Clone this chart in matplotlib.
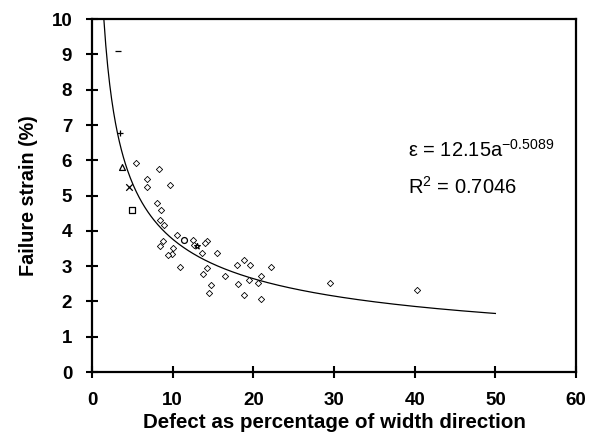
import numpy as np
import matplotlib
matplotlib.use('Agg')
import matplotlib.pyplot as plt

plt.rcParams['font.family'] = ['Liberation Sans', 'DejaVu Sans']

#------------------------------------------------------------------------------
# data
# defect (% of width) / failure strain (%) for the diamond series
defect_diamond = [5.5, 8.3, 6.8, 6.8, 9.7, 8.0, 8.6, 8.4, 8.9, 10.5,
                  8.8, 8.4, 10.0, 9.9, 9.4, 10.9, 12.5, 12.7, 14.2, 14.0,
                  13.6, 15.5, 14.2, 13.8, 16.5, 14.7, 14.5, 18.0, 18.9, 19.6,
                  22.2, 18.1, 19.4, 21.0, 20.6, 18.9, 20.9, 29.5, 40.3]
strain_diamond = [5.91, 5.76, 5.48, 5.25, 5.29, 4.80, 4.59, 4.32, 4.17, 3.87,
                  3.72, 3.57, 3.51, 3.34, 3.31, 2.98, 3.74, 3.60, 3.72, 3.65,
                  3.38, 3.38, 2.96, 2.78, 2.72, 2.46, 2.23, 3.02, 3.17, 3.02,
                  2.97, 2.49, 2.61, 2.72, 2.51, 2.19, 2.06, 2.51, 2.32]

# single points with their own symbols
defect_single = [3.25, 3.5, 3.7, 4.6, 5.0, 11.4, 13.0]
strain_single = [9.1, 6.78, 5.82, 5.25, 4.59, 3.74, 3.57]
marker_single = ['_', '+', '^', 'x', 's', 'o', '*']

# power law fit
fit_coef = 12.15
fit_exp = -0.5089
fit_r2 = 0.7046

#------------------------------------------------------------------------------
figure = plt.figure(figsize=(5.91, 4.45), dpi=100)
ax = figure.add_axes([0.1557, 0.164, 0.819, 0.793])

#fit curve
a = np.linspace(1.46, 50, 400)
ax.plot(a, fit_coef * a ** fit_exp, color='black', lw=0.9)

#diamonds
ax.scatter(defect_diamond, strain_diamond, marker='D', s=10,
           facecolors='white', edgecolors='black', linewidths=0.6, zorder=3)

#special symbols
for x, y, m in zip(defect_single, strain_single, marker_single):
    if m in ['+', 'x', '_']:
        ax.scatter(x, y, marker=m, s=22, color='black', linewidths=0.9, zorder=3)
    else:
        ax.scatter(x, y, marker=m, s=18, facecolors='white',
                   edgecolors='black', linewidths=0.9, zorder=3)

ax.text(39.2, 6.1, r'$\mathregular{\varepsilon}$ = 12.15a$^{\mathregular{-0.5089}}$',
        fontsize=14.5)
ax.text(39.2, 5.05, r'R$^{\mathregular{2}}$ = %.4f' % fit_r2, fontsize=14.5)

ax.set_xlim(0, 60)
ax.set_ylim(0, 10)
ax.set_xticks(range(0, 61, 10))
ax.set_yticks(range(0, 11))

for side in ['left', 'bottom', 'top', 'right']:
    ax.spines[side].set_linewidth(1.6)

ax.tick_params(direction='inout', length=8.5, width=1.5, labelsize=13.5, pad=10)
for label in ax.get_xticklabels() + ax.get_yticklabels():
    label.set_fontweight('bold')

ax.set_xlabel('Defect as percentage of width direction', fontsize=14.8,
              fontweight='bold', labelpad=3)
ax.set_ylabel('Failure strain (%)', fontsize=14.2, fontweight='bold', labelpad=10)

figure.savefig('out.png', dpi=100)
plt.close()
